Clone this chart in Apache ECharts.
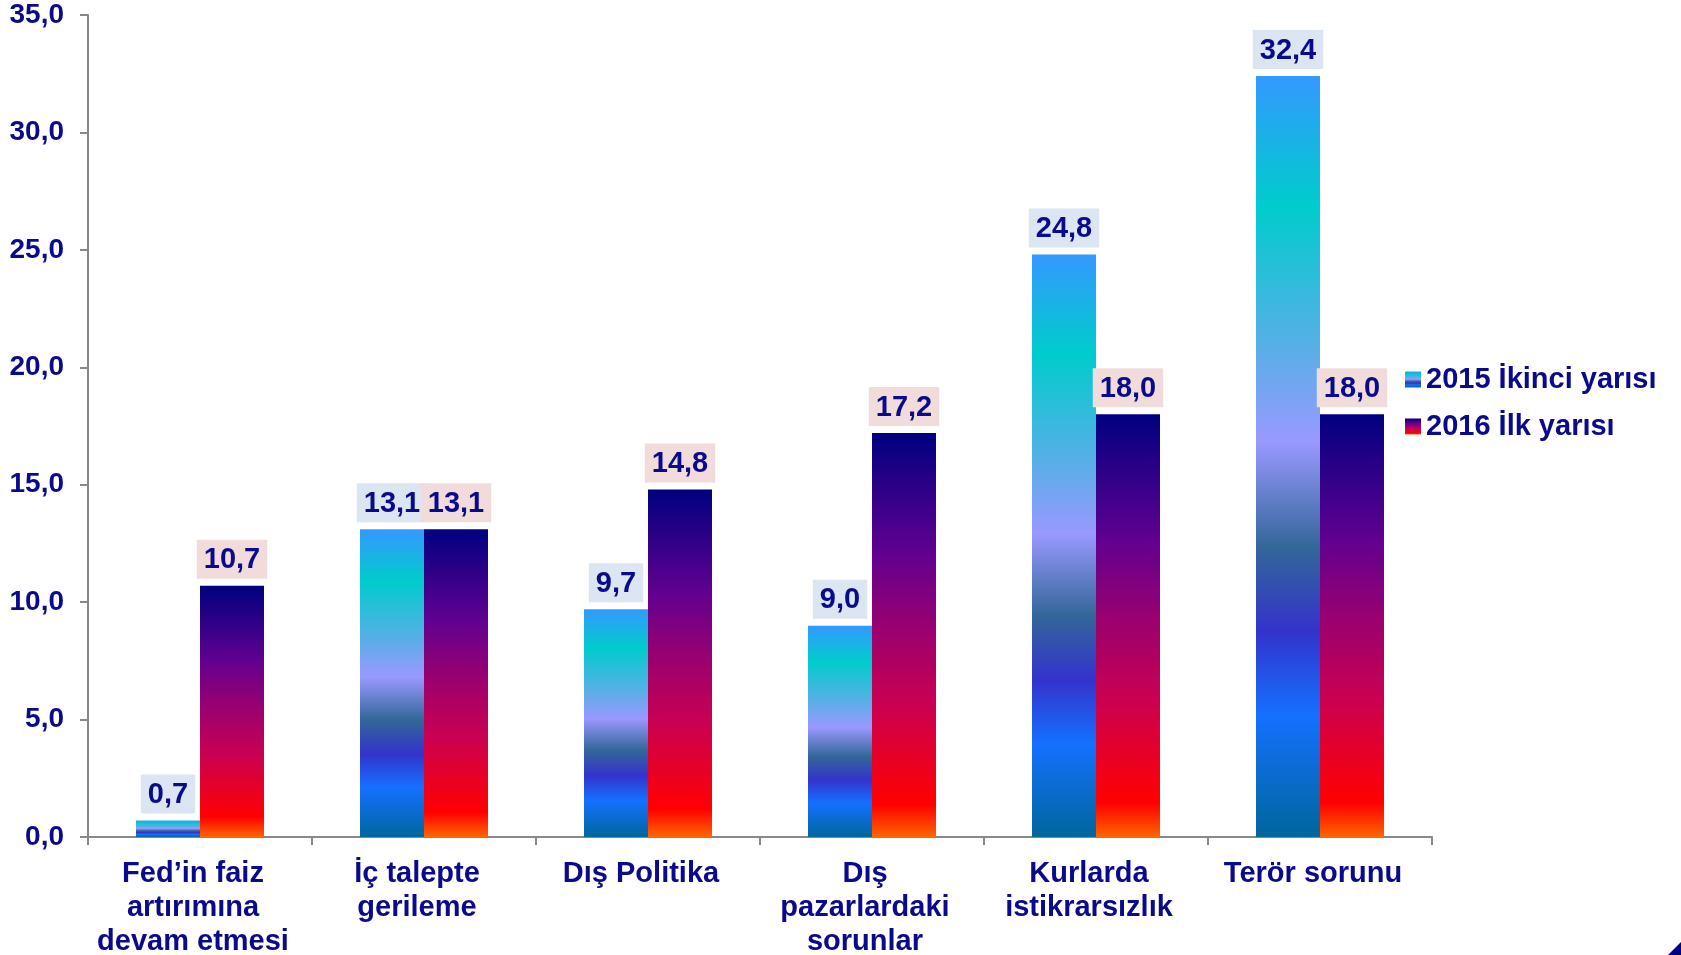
<!DOCTYPE html>
<html>
<head>
<meta charset="utf-8">
<script src="https://cdn.jsdelivr.net/npm/echarts@6/dist/echarts.min.js"></script>
<style>
html,body{margin:0;padding:0;background:#fff;}
#chart{width:1681px;height:955px;}
</style>
</head>
<body>
<div id="chart"></div>
<script>
const categories = [
  "Fed\u2019in faiz\nartırımına\ndevam etmesi",
  "İç talepte\ngerileme",
  "Dış Politika",
  "Dış\npazarlardaki\nsorunlar",
  "Kurlarda\nistikrarsızlık",
  "Terör sorunu"
];
const seriesNames = ["2015 İkinci yarısı", "2016 İlk yarısı"];
const values2015H2 = [0.7, 13.1, 9.7, 9.0, 24.8, 32.4];
const values2016H1 = [10.7, 13.1, 14.8, 17.2, 18.0, 18.0];
const yTicks = { min: 0, max: 35, interval: 5 };

const navy = '#0a0a8c';
const axisGray = '#888888';
const fontFam = '"Liberation Sans", Arial, sans-serif';
const fmt = v => v.toFixed(1).replace('.', ',');

const grad1 = new echarts.graphic.LinearGradient(0, 0, 0, 1, [
  { offset: 0, color: '#3399ff' },
  { offset: 0.17, color: '#00cccc' },
  { offset: 0.36, color: '#5aaee8' },
  { offset: 0.48, color: '#9999ff' },
  { offset: 0.62, color: '#336699' },
  { offset: 0.73, color: '#3333cc' },
  { offset: 0.84, color: '#1570ff' },
  { offset: 1, color: '#00669c' }
]);
const grad2 = new echarts.graphic.LinearGradient(0, 0, 0, 1, [
  { offset: 0, color: '#000080' },
  { offset: 0.30, color: '#620090' },
  { offset: 0.48, color: '#990070' },
  { offset: 0.68, color: '#cc0050' },
  { offset: 0.92, color: '#ff0000' },
  { offset: 1, color: '#ff6600' }
]);

const labelCommon = {
  show: true,
  position: 'top',
  distance: 7,
  color: navy,
  fontFamily: fontFam,
  fontWeight: 'bold',
  fontSize: 29,
  padding: [6, 7, 4, 7],
  formatter: p => fmt(p.value)
};

const chart = echarts.init(document.getElementById('chart'));
chart.setOption({
  backgroundColor: '#ffffff',
  animation: false,
  grid: { left: 88, right: 249, top: 15, bottom: 118, containLabel: false, outerBoundsMode: 'none' },
  legend: {
    orient: 'vertical',
    left: 1400,
    top: 360,
    itemWidth: 16,
    itemHeight: 16,
    itemGap: 18,
    icon: 'rect',
    textStyle: { color: navy, fontFamily: fontFam, fontWeight: 'bold', fontSize: 29, padding: [0, 0, 0, 0] },
    data: seriesNames
  },
  xAxis: {
    type: 'category',
    data: categories,
    axisLine: { show: true, lineStyle: { color: axisGray, width: 2 } },
    axisTick: { show: true, length: 8, alignWithLabel: false, lineStyle: { color: axisGray, width: 2 } },
    axisLabel: {
      interval: 0,
      margin: 20,
      color: navy,
      fontFamily: fontFam,
      fontWeight: 'bold',
      fontSize: 29,
      lineHeight: 34,
      padding: [0, 14, 0, 0]
    },
    splitLine: { show: false }
  },
  yAxis: {
    type: 'value',
    min: yTicks.min,
    max: yTicks.max,
    interval: yTicks.interval,
    axisLine: { show: true, lineStyle: { color: axisGray, width: 2 } },
    axisTick: { show: true, length: 8, lineStyle: { color: axisGray, width: 2 } },
    axisLabel: {
      margin: 24,
      color: navy,
      fontFamily: fontFam,
      fontWeight: 'bold',
      fontSize: 28,
      formatter: v => fmt(v)
    },
    splitLine: { show: false }
  },
  series: [
    {
      name: seriesNames[0],
      type: 'bar',
      data: values2015H2,
      barWidth: 64,
      barGap: '0%',
      itemStyle: { color: grad1 },
      label: Object.assign({}, labelCommon, { backgroundColor: '#dce6f2' })
    },
    {
      name: seriesNames[1],
      type: 'bar',
      data: values2016H1,
      barWidth: 64,
      barGap: '0%',
      itemStyle: { color: grad2 },
      label: Object.assign({}, labelCommon, { backgroundColor: '#f2dcdb' })
    }
  ],
  graphic: [
    { type: 'polygon', shape: { points: [[1681, 942], [1681, 955], [1668, 955]] }, style: { fill: '#000080' } }
  ]
});
</script>
</body>
</html>
